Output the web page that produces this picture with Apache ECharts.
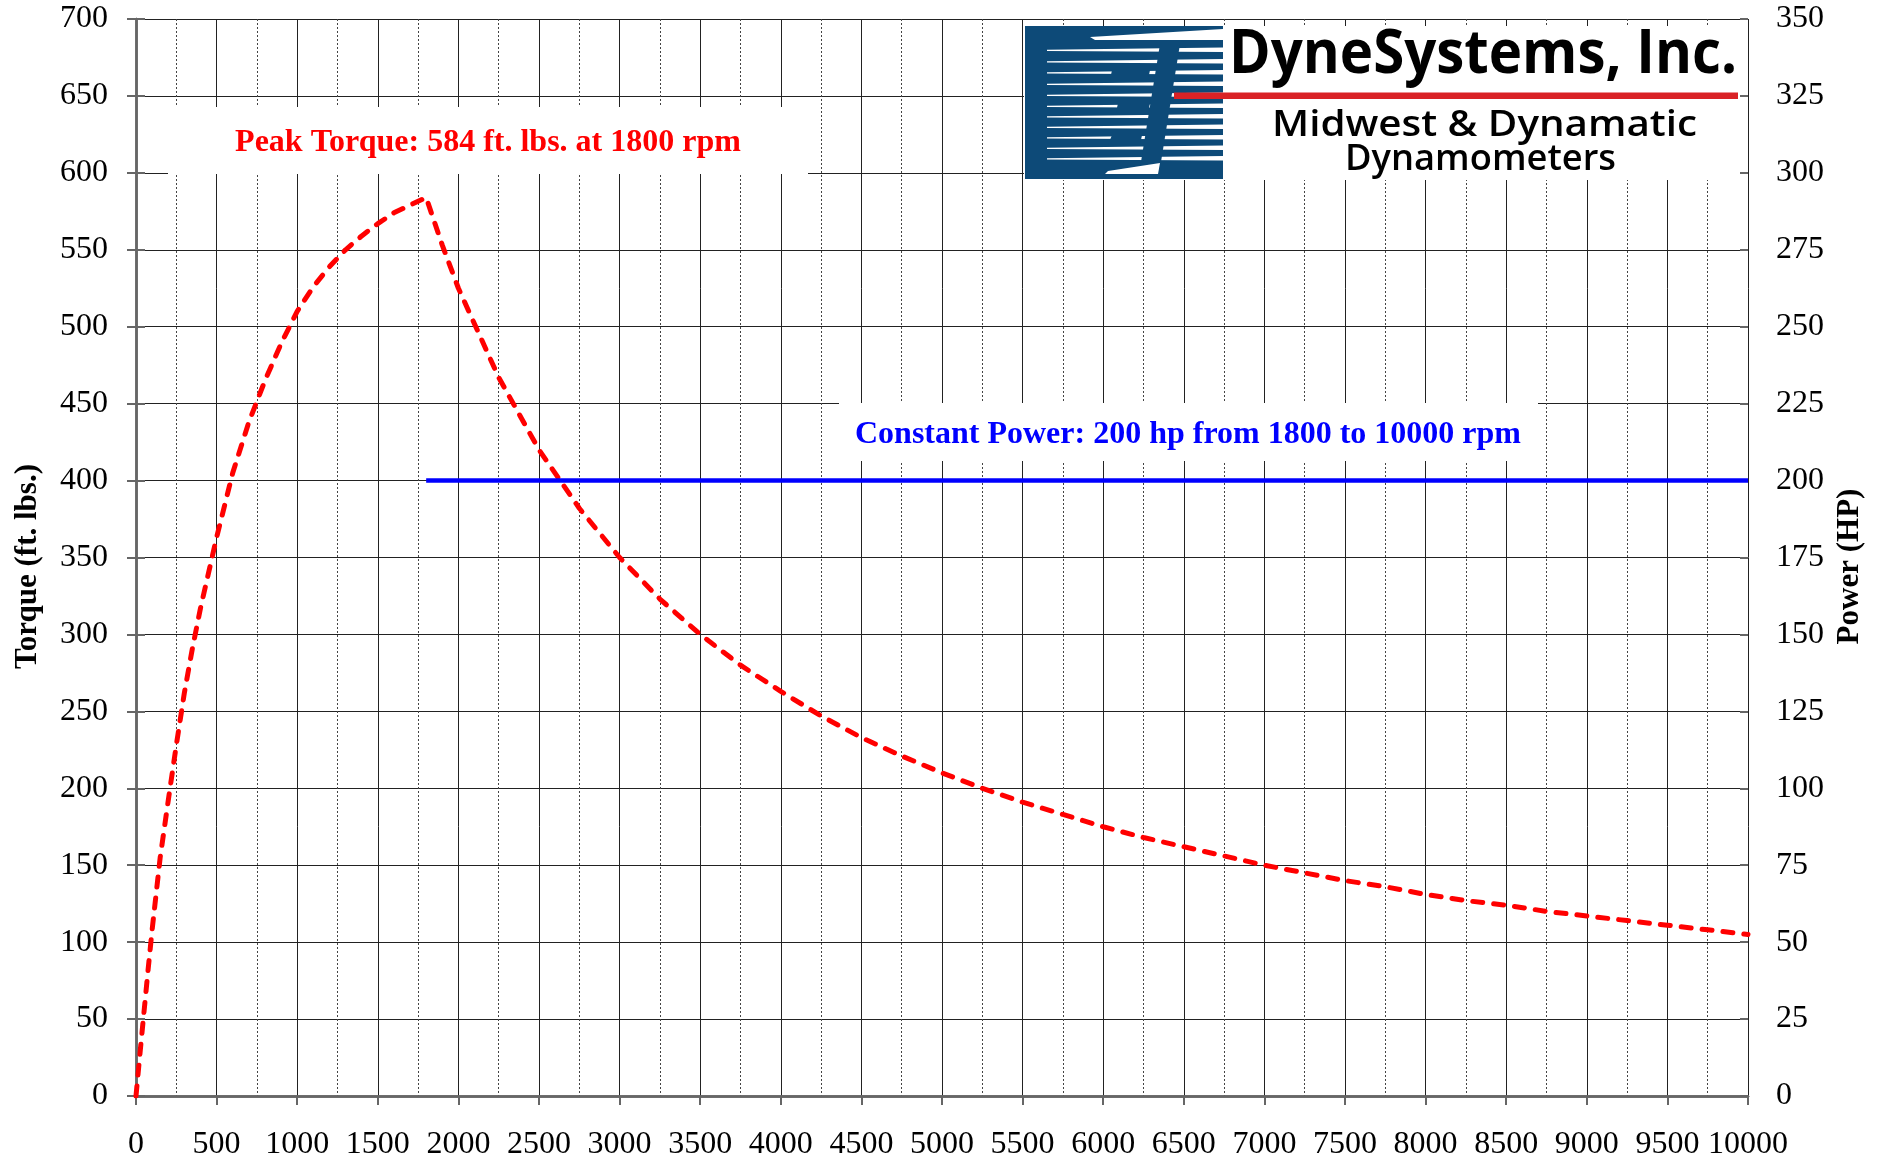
<!DOCTYPE html>
<html><head><meta charset="utf-8">
<script src="https://cdn.jsdelivr.net/npm/echarts@6/dist/echarts.min.js"></script>
<style>html,body{margin:0;padding:0;background:#fff}#c{width:1885px;height:1160px}</style>
</head><body><div id="c"></div>
<script>
// ---- data ----
const torqueRpm = [0, 25, 50, 75, 100, 150, 200, 250, 300, 350, 400, 500, 600, 700, 800, 900, 1000, 1100, 1200, 1300, 1400, 1500, 1600, 1700, 1800,
  1900, 2000, 2250, 2500, 2750, 3000, 3250, 3500, 3750, 4000, 4250, 4500, 4750, 5000, 5250, 5500, 5750, 6000, 6250, 6500, 6750, 7000,
  7250, 7500, 7750, 8000, 8250, 8500, 8750, 9000, 9250, 9500, 9750, 10000];
const torqueVals = [0, 28, 55, 82, 108, 155, 192, 228, 262, 291, 317, 363, 405, 438, 465, 489, 510, 526, 539, 550, 559, 567, 574, 579, 584,
  553, 525, 467, 420, 382, 350, 323, 300, 280, 263, 247, 233, 221, 210, 200, 191, 183, 175, 168, 162, 156, 150,
  145, 140, 136, 131, 127, 124, 120, 117, 114, 111, 108, 105];
const powerRpm = [1800, 10000];
const powerVals = [200, 200];
const rpmAxis = { min: 0, max: 10000, interval: 500 };
const torqueAxis = { min: 0, max: 700, interval: 50 };
const powerAxis = { min: 0, max: 350, interval: 25 };
const torqueTitle = 'Torque (ft. lbs.)';
const powerTitle = 'Power (HP)';
const peakNote = 'Peak Torque: 584 ft. lbs. at 1800 rpm';
const powerNote = 'Constant Power: 200 hp from 1800 to 10000 rpm';
const logoTitle = 'DyneSystems, Inc.';
const logoLine2 = 'Midwest & Dynamatic';
const logoLine3 = 'Dynamometers';

const SERIF = '"Liberation Serif", "Times New Roman", serif';
const SANS = '"Open Sans", "Noto Sans", sans-serif';

function fit(text, weight, size, family, target) {
  const ctx = document.createElement('canvas').getContext('2d');
  ctx.font = weight + ' ' + size + 'px ' + family;
  return target / ctx.measureText(text).width;
}

const chart = echarts.init(document.getElementById('c'), null, { renderer: 'canvas' });

const gridColor = '#222';
const axisColor = '#666';
const labelStyle = { color: '#000', fontFamily: SERIF, fontSize: 32 };
const plain = function (v) { return String(v); };

// logo decorative graphics
const logoBlue = '#0d4a78';
const logoEls = [];
logoEls.push({ type: 'rect', z: 100, shape: { x: 1024, y: 26, width: 716, height: 154 }, style: { fill: '#fff' } });
logoEls.push({ type: 'rect', z: 101, shape: { x: 1025, y: 26, width: 198, height: 153 }, style: { fill: logoBlue } });
const stripeY = [49, 60.5, 71.5, 83, 94, 105, 115.5, 126, 136.5, 147, 157.5];
stripeY.forEach(function (y) {
  logoEls.push({ type: 'polygon', z: 102, shape: { points: [[1047, y + 0.8], [1223, y - 1.5], [1223, y + 3], [1047, y + 2]] }, style: { fill: '#fff' } });
});
// blue breaks forming the letters
logoEls.push({ type: 'polygon', z: 103, shape: { points: [[1160, 44], [1180, 44], [1160, 168], [1140, 168]] }, style: { fill: logoBlue } });
logoEls.push({ type: 'polygon', z: 103, shape: { points: [[1112, 70], [1150, 70], [1148, 80], [1110, 80]] }, style: { fill: logoBlue } });
logoEls.push({ type: 'polygon', z: 103, shape: { points: [[1118, 103], [1150, 103], [1148, 113], [1116, 113]] }, style: { fill: logoBlue } });
logoEls.push({ type: 'polygon', z: 103, shape: { points: [[1112, 135], [1142, 135], [1140, 145], [1108, 145]] }, style: { fill: logoBlue } });
// white wedge top and bottom
logoEls.push({ type: 'polygon', z: 104, shape: { points: [[1090, 37], [1223, 29], [1223, 40], [1095, 40]] }, style: { fill: '#fff' } });
logoEls.push({ type: 'polygon', z: 104, shape: { points: [[1108, 171], [1160, 163], [1158, 174], [1105, 174]] }, style: { fill: '#fff' } });
// red rule
logoEls.push({ type: 'rect', z: 105, shape: { x: 1174, y: 92.5, width: 564, height: 6.5 }, style: { fill: '#d92226' } });
// logo texts
logoEls.push({ type: 'text', z: 106, x: 1229, y: 56, scaleX: fit(logoTitle, 'bold', 60, SANS, 508),
  style: { text: logoTitle, fontSize: 60, fontWeight: 'bold', fontFamily: SANS, fill: '#000', align: 'left', verticalAlign: 'middle' } });
logoEls.push({ type: 'text', z: 106, x: 1272, y: 126, scaleX: fit(logoLine2, '600', 36, SANS, 425),
  style: { text: logoLine2, fontSize: 36, fontWeight: 600, fontFamily: SANS, fill: '#000', align: 'left', verticalAlign: 'middle' } });
logoEls.push({ type: 'text', z: 106, x: 1345, y: 160, scaleX: fit(logoLine3, '600', 36, SANS, 271),
  style: { text: logoLine3, fontSize: 36, fontWeight: 600, fontFamily: SANS, fill: '#000', align: 'left', verticalAlign: 'middle' } });

const noteEls = [
  { type: 'rect', z: 100, shape: { x: 168, y: 107, width: 640, height: 67 }, style: { fill: '#fff' } },
  { type: 'text', z: 101, x: 488, y: 143, style: { text: peakNote, fontSize: 32, fontWeight: 'bold', fontFamily: SERIF, fill: '#ff0000', align: 'center', verticalAlign: 'middle' } },
  { type: 'rect', z: 100, shape: { x: 839, y: 403, width: 699, height: 58 }, style: { fill: '#fff' } },
  { type: 'text', z: 101, x: 1188, y: 435, style: { text: powerNote, fontSize: 32, fontWeight: 'bold', fontFamily: SERIF, fill: '#0000ff', align: 'center', verticalAlign: 'middle' } }
];

const titleStyle = { color: '#000', fontFamily: SERIF, fontSize: 31, fontWeight: 'bold', padding: [0, 18, 0, 0] };

const option = {
  animation: false,
  backgroundColor: '#fff',
  grid: { left: 136, right: 137, top: 19, bottom: 64, containLabel: false, outerBoundsMode: 'none' },
  xAxis: [{
    type: 'value', min: rpmAxis.min, max: rpmAxis.max, interval: rpmAxis.interval, position: 'bottom',
    axisLine: { show: true, lineStyle: { color: axisColor, width: 2.5 } },
    axisTick: { show: true, inside: false, length: 9, lineStyle: { color: axisColor, width: 2 } },
    axisLabel: Object.assign({ margin: 33, showMinLabel: true, showMaxLabel: true, formatter: plain }, labelStyle),
    splitLine: { show: true, lineStyle: { color: gridColor, width: 1 } },
    minorTick: { show: false, splitNumber: 2 },
    minorSplitLine: { show: true, lineStyle: { color: '#444', width: 1, type: [2, 2] } }
  }, {
    type: 'value', min: rpmAxis.min, max: rpmAxis.max, interval: rpmAxis.interval, position: 'top',
    axisLine: { show: true, lineStyle: { color: axisColor, width: 2.5 } },
    axisTick: { show: false }, axisLabel: { show: false }, splitLine: { show: false }
  }],
  yAxis: [{
    type: 'value', min: torqueAxis.min, max: torqueAxis.max, interval: torqueAxis.interval, position: 'left',
    name: torqueTitle, nameLocation: 'middle', nameRotate: 90, nameGap: 93,
    nameTextStyle: titleStyle,
    axisLine: { show: true, lineStyle: { color: axisColor, width: 2.5 } },
    axisTick: { show: true, inside: false, length: 9, lineStyle: { color: axisColor, width: 2 } },
    axisLabel: Object.assign({ margin: 28, formatter: plain }, labelStyle),
    splitLine: { show: true, lineStyle: { color: gridColor, width: 1 } }
  }, {
    type: 'value', min: powerAxis.min, max: powerAxis.max, interval: powerAxis.interval, position: 'right',
    name: powerTitle, nameLocation: 'middle', nameRotate: 90, nameGap: 85,
    nameTextStyle: titleStyle,
    axisLine: { show: true, lineStyle: { color: axisColor, width: 2.5 } },
    axisTick: { show: true, inside: false, length: 9, lineStyle: { color: axisColor, width: 2 } },
    axisLabel: Object.assign({ margin: 28, formatter: plain }, labelStyle),
    splitLine: { show: false }
  }, {
    type: 'value', min: powerAxis.min, max: powerAxis.max, interval: powerAxis.interval, position: 'right',
    axisLine: { show: false },
    axisTick: { show: true, inside: true, length: 8, lineStyle: { color: axisColor, width: 2 } },
    axisLabel: { show: false }, splitLine: { show: false }
  }],
  series: [{
    name: 'Torque', type: 'line', xAxisIndex: 0, yAxisIndex: 0, showSymbol: false, symbol: 'none', z: 5,
    data: torqueRpm.map(function (r, i) { return [r, torqueVals[i]]; }),
    lineStyle: { color: '#ff0000', width: 5, type: [10, 11], cap: 'round', join: 'round' }
  }, {
    name: 'Power', type: 'line', xAxisIndex: 0, yAxisIndex: 1, showSymbol: false, symbol: 'none', z: 5,
    data: powerRpm.map(function (r, i) { return [r, powerVals[i]]; }),
    lineStyle: { color: '#0000ff', width: 4.5 }
  }],
  graphic: { elements: noteEls.concat(logoEls) }
};
chart.setOption(option);
</script>
</body></html>
